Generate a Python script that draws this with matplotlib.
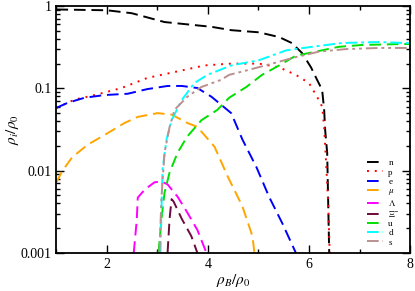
import matplotlib
matplotlib.use('Agg')
import matplotlib.pyplot as plt
from matplotlib.ticker import LogLocator, NullFormatter, MultipleLocator

plt.rcParams['font.family'] = ['Liberation Serif', 'DejaVu Serif']
plt.rcParams['mathtext.fontset'] = 'stix'

# particle fractions rho_i/rho_0 vs rho_B/rho_0
n_x = [1.0, 1.5, 2.0, 2.49, 3.14, 4.07, 4.46, 5.01, 5.41, 5.66, 5.86, 6.04, 6.16, 6.26, 6.30, 6.32, 6.36, 6.38, 6.40]
n_y = [0.91, 0.90, 0.89, 0.82, 0.64, 0.56, 0.51, 0.48, 0.42, 0.356, 0.27, 0.18, 0.127, 0.096, 0.055, 0.031, 0.0165, 0.0041, 0.001]

p_x = [1.0, 1.36, 1.76, 2.29, 2.80, 3.34, 3.93, 4.46, 5.01, 5.41, 5.74, 6.0, 6.16, 6.26, 6.30, 6.34, 6.38, 6.41]
p_y = [0.058, 0.073, 0.083, 0.101, 0.134, 0.158, 0.19, 0.20, 0.20, 0.18, 0.146, 0.116, 0.079, 0.06, 0.034, 0.012, 0.004, 0.001]

e_x = [1.0, 1.23, 1.56, 1.96, 2.41, 2.80, 3.20, 3.48, 3.79, 4.07, 4.46, 4.68, 4.96, 5.21, 5.47, 5.74]
e_y = [0.058, 0.067, 0.077, 0.083, 0.086, 0.098, 0.107, 0.107, 0.101, 0.079, 0.050, 0.024, 0.011, 0.0048, 0.0023, 0.001]

mu_x = [1.0, 1.11, 1.31, 1.62, 1.96, 2.35, 2.61, 3.0, 3.28, 3.59, 3.79, 4.13, 4.39, 4.68, 4.88, 4.92]
mu_y = [0.0072, 0.0098, 0.0145, 0.0207, 0.0273, 0.038, 0.045, 0.050, 0.048, 0.038, 0.034, 0.0195, 0.0085, 0.0037, 0.0016, 0.001]

lam_x = [2.53, 2.59, 2.61, 2.75, 2.94, 3.08, 3.20, 3.40, 3.59, 3.79, 3.97]
lam_y = [0.001, 0.0025, 0.0047, 0.0059, 0.0072, 0.0074, 0.0068, 0.0048, 0.0031, 0.0019, 0.001]

xi_x = [3.20, 3.24, 3.28, 3.32, 3.48, 3.67, 3.79]
xi_y = [0.001, 0.0026, 0.0045, 0.0042, 0.0026, 0.0016, 0.001]

u_x = [3.02, 3.08, 3.14, 3.24, 3.40, 3.59, 3.87, 4.19, 4.42, 4.76, 5.07, 5.41, 5.74, 6.14, 6.59, 7.05, 7.84, 8.0]
u_y = [0.001, 0.0026, 0.0054, 0.0095, 0.0166, 0.026, 0.041, 0.055, 0.077, 0.104, 0.146, 0.19, 0.25, 0.28, 0.32, 0.337, 0.346, 0.346]

d_x = [3.06, 3.08, 3.10, 3.18, 3.28, 3.48, 3.73, 3.99, 4.46, 5.01, 5.55, 6.06, 6.65, 7.38, 7.91, 8.0]
d_y = [0.001, 0.0035, 0.0103, 0.024, 0.041, 0.072, 0.116, 0.146, 0.19, 0.22, 0.29, 0.32, 0.356, 0.366, 0.356, 0.356]

s_x = [3.04, 3.08, 3.14, 3.24, 3.34, 3.59, 3.87, 4.26, 4.42, 4.81, 5.27, 5.74, 6.20, 6.73, 7.38, 7.91, 8.0]
s_y = [0.001, 0.0048, 0.0166, 0.034, 0.055, 0.079, 0.104, 0.127, 0.146, 0.168, 0.20, 0.24, 0.28, 0.30, 0.31, 0.31, 0.31]

fig = plt.figure(figsize=(4.15, 2.91), dpi=100)
ax = fig.add_axes([0.136, 0.131, 0.852, 0.848])

lw = 1.4
ax.plot(n_x, n_y, color='black', lw=lw, dashes=(6, 3), label='n')
ax.plot(p_x, p_y, color='red', lw=lw, dashes=(1, 3), label='p')
ax.plot(e_x, e_y, color='blue', lw=lw, dashes=(6, 3), label='e')
ax.plot(mu_x, mu_y, color='orange', lw=lw, dashes=(6, 3), label=r'$\mu$')
ax.plot(lam_x, lam_y, color='magenta', lw=lw, dashes=(6, 3), label=r'$\Lambda$')
ax.plot(xi_x, xi_y, color='#6b0a3c', lw=lw, dashes=(6, 3), label=r'$\Xi^{-}$')
ax.plot(u_x, u_y, color='#00e000', lw=lw, dashes=(6, 3), label='u')
ax.plot(d_x, d_y, color='cyan', lw=lw, dashes=(6, 2, 1.5, 2), label='d')
ax.plot(s_x, s_y, color='#bc8f8f', lw=lw, dashes=(6, 2, 1.5, 2, 1.5, 2), label='s')

ax.set_yscale('log')
ax.set_xlim(1, 8)
ax.set_ylim(0.001, 1)
ax.xaxis.set_major_locator(MultipleLocator(2))
ax.xaxis.set_minor_locator(MultipleLocator(1))
ax.yaxis.set_major_locator(LogLocator(base=10))
ax.yaxis.set_minor_locator(LogLocator(base=10, subs=range(2, 10)))
ax.yaxis.set_minor_formatter(NullFormatter())
ax.set_yticks([0.001, 0.01, 0.1, 1])
ax.set_yticklabels(['0.001', '0.01', '0.1', '1'])
ax.tick_params(which='both', direction='in', top=True, right=True, labelsize=10)
ax.tick_params(which='major', length=6, width=1)
ax.tick_params(which='minor', length=3, width=1)
for sp in ax.spines.values():
    sp.set_linewidth(1.3)

ax.set_xlabel(r'$\rho_B/\rho_0$', fontsize=11, labelpad=1)
ax.set_ylabel(r'$\rho_i/\rho_0$', fontsize=11, labelpad=0)

ax.legend(loc='lower right', frameon=False, fontsize=6.5, handlelength=1.8,
          labelspacing=0.1, handletextpad=0.6, borderaxespad=0.3,
          bbox_to_anchor=(0.99, 0.0))

fig.savefig('out.png', dpi=100)
